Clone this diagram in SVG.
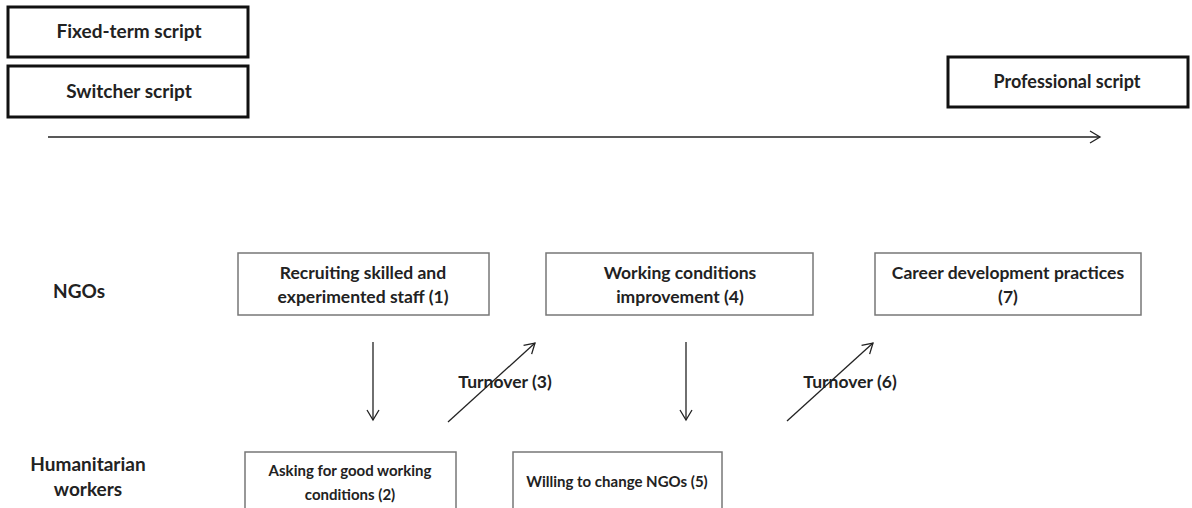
<svg xmlns="http://www.w3.org/2000/svg" width="1192" height="508" viewBox="0 0 1192 508">
<style>
text{font-family:Lato,"Liberation Sans",sans-serif;font-weight:bold;font-size:17.5px;fill:#222;text-anchor:middle}
.big{font-size:19px}
.small{font-size:15px}
.prof{font-size:18px}
.script{fill:#fff;stroke:#111;stroke-width:3}
.box{fill:#fff;stroke:#777;stroke-width:1.5}
.conn{stroke:#222;stroke-width:1.3;fill:none}
</style>
<defs>
<marker id="ah" markerWidth="14" markerHeight="14" refX="11" refY="7" orient="auto" markerUnits="userSpaceOnUse">
<path d="M1,1 L11,7 L1,13" fill="none" stroke="#222" stroke-width="1.3"/>
</marker>
</defs>
<rect width="1192" height="508" fill="#fff"/>
<g id="fixed-term"><rect class="script" x="8" y="7" width="240" height="50"/><text class="big" x="129" y="38">Fixed-term script</text></g>
<g id="switcher"><rect class="script" x="8" y="66" width="240" height="51"/><text class="big" x="129" y="98">Switcher script</text></g>
<g id="professional"><rect class="script" x="948" y="57" width="240" height="50"/><text class="prof" x="1067" y="88">Professional script</text></g>
<g id="ngos-label"><text class="big" x="79" y="298">NGOs</text></g>
<g id="workers-label"><text class="big" x="88" y="471">Humanitarian</text><text class="big" x="88" y="496">workers</text></g>
<g id="n1"><rect class="box" x="238" y="253" width="251" height="62"/><text x="363" y="279">Recruiting skilled and</text><text x="363" y="303">experimented staff (1)</text></g>
<g id="n4"><rect class="box" x="546" y="253" width="267" height="62"/><text x="680" y="279">Working conditions</text><text x="680" y="303">improvement (4)</text></g>
<g id="n7"><rect class="box" x="875" y="253" width="266" height="62"/><text x="1008" y="279">Career development practices</text><text x="1008" y="303">(7)</text></g>
<g id="n2"><rect class="box" x="245" y="452" width="211" height="70"/><text class="small" x="350" y="476">Asking for good working</text><text class="small" x="350" y="500">conditions (2)</text></g>
<g id="n5"><rect class="box" x="513" y="452" width="209" height="70"/><text class="small" x="617" y="487">Willing to change NGOs (5)</text></g>
<g id="connectors">
<line class="conn" x1="48" y1="137" x2="1100" y2="137" marker-end="url(#ah)"/>
<line class="conn" x1="373" y1="342" x2="373" y2="420" marker-end="url(#ah)"/>
<line class="conn" x1="448" y1="422" x2="535" y2="343" marker-end="url(#ah)"/>
<line class="conn" x1="686" y1="342" x2="686" y2="420" marker-end="url(#ah)"/>
<line class="conn" x1="787" y1="421" x2="873" y2="343" marker-end="url(#ah)"/>
<text x="505" y="388">Turnover (3)</text>
<text x="850" y="388">Turnover (6)</text>
</g>
</svg>
